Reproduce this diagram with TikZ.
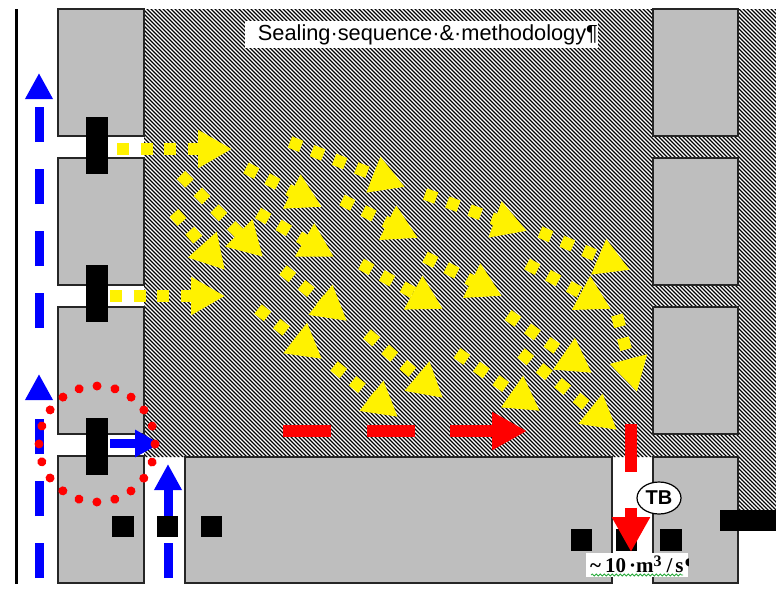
\documentclass[tikz,border=0pt]{standalone}
\usepackage{fontspec}
\setmainfont{Liberation Sans}
\newfontfamily\flowfont{Liberation Serif}
\usepackage{tikz}
\usetikzlibrary{arrows.meta,decorations.pathmorphing,patterns.meta,shapes.geometric}
\definecolor{RoomGray}{RGB}{190,190,190}
\definecolor{WaveGreen}{RGB}{40,170,60}
\tikzset{
  hatchzone/.style={pattern={Lines[angle=-45,distance=2.8284pt,line width=1.2pt]},pattern color=black},
  room/.style={draw=black!85,fill=RoomGray,line width=2pt},
  block/.style={fill=black},
  wall/.style={draw=black,line width=3pt},
  flowarrow/.style={draw=yellow,line width=12pt,dash pattern=on 12pt off 11.7pt,
    -{Triangle[length=34pt,width=36pt]}},
  bluearrow/.style={draw=blue,line width=9pt,dash pattern=on 35pt off 27pt,
    -{Triangle[length=26pt,width=26pt]}},
  bluesolid/.style={draw=blue,line width=9pt,-{Triangle[length=25pt,width=26pt]}},
  redarrow/.style={draw=red,line width=12pt,dash pattern=on 48pt off 35.5pt,
    -{Triangle[length=35pt,width=36pt]}},
  sealring/.style={draw=red,line width=9pt,line cap=round,dash pattern=on 0.01pt off 18.2pt},
  titlebox/.style={fill=white,inner sep=0pt,text width=353pt,minimum height=27pt,align=right,
    font=\fontsize{21.8pt}{23pt}\selectfont},
  tbbubble/.style={ellipse,draw=black,fill=white,line width=1.2pt,inner sep=0pt,
    minimum width=44pt,minimum height=32pt,font=\fontsize{20pt}{21pt}\selectfont\bfseries},
  wave/.style={draw=WaveGreen,line width=0.8pt,decorate,
    decoration={snake,amplitude=1pt,segment length=4pt}},
}
\begin{document}
\begin{tikzpicture}[x=1pt,y=-1pt]
\useasboundingbox (0,0) rectangle (776,590);
\fill[hatchzone] (144,9)--(776,9)--(776,510)--(738,510)--(738,457)--(144,457)--cycle;
\draw[wall] (16,9)--(16,584);
\draw[room] (58,9) rectangle (144,136);
\draw[room] (58,158) rectangle (144,285);
\draw[room] (58,307) rectangle (144,434);
\draw[room] (58,456) rectangle (144,583);
\draw[room] (653,9) rectangle (738,136);
\draw[room] (653,158) rectangle (738,285);
\draw[room] (653,307) rectangle (738,434);
\draw[room] (653,457) rectangle (738,583);
\draw[room] (185,457) rectangle (612,583);
\coordinate (b1a) at (39,328);
\coordinate (b1b) at (39,73);
\coordinate (b2a) at (39,578);
\coordinate (b2b) at (39,374);
\coordinate (b3a) at (168,578);
\coordinate (b3b) at (168,464);
\coordinate (b4a) at (110,443.5);
\coordinate (b4b) at (160,443.5);
\draw[bluearrow] (b1a)--(b1b);
\draw[bluearrow] (b2a)--(b2b);
\draw[bluearrow] (b3a)--(b3b);
\draw[bluesolid] (b4a)--(b4b);
\fill[block] (86,117) rectangle (108,174);
\fill[block] (86,265) rectangle (108,322);
\fill[block] (86,418) rectangle (108,475);
\fill[block] (112,516) rectangle (134,537);
\fill[block] (157,516) rectangle (178,537);
\fill[block] (201,516) rectangle (222,537);
\fill[block] (571,529) rectangle (592,551);
\fill[block] (616,529) rectangle (637,551);
\fill[block] (660,529) rectangle (682,551);
\fill[block] (720,510) rectangle (776,531);
\coordinate (y1a) at (117,149);
\coordinate (y1b) at (232,149);
\coordinate (y2a) at (110,296);
\coordinate (y2b) at (225,296);
\coordinate (y3a) at (290,142);
\coordinate (y3b) at (405,187);
\coordinate (y4a) at (425,194);
\coordinate (y4b) at (527,231);
\coordinate (y5a) at (540,232);
\coordinate (y5b) at (630,270);
\coordinate (y6a) at (617,315);
\coordinate (y6b) at (637,392);
\coordinate (y7a) at (246,168);
\coordinate (y7b) at (322,207);
\coordinate (y8a) at (342,200);
\coordinate (y8b) at (418,238);
\coordinate (y9a) at (425,257);
\coordinate (y9b) at (502,296);
\coordinate (y10a) at (527,264);
\coordinate (y10b) at (611,309);
\coordinate (y11a) at (181,175);
\coordinate (y11b) at (263,257);
\coordinate (y12a) at (174,213);
\coordinate (y12b) at (225,270);
\coordinate (y13a) at (258,213);
\coordinate (y13b) at (334,257);
\coordinate (y14a) at (283,270);
\coordinate (y14b) at (347,321);
\coordinate (y15a) at (258,309);
\coordinate (y15b) at (322,359);
\coordinate (y16a) at (361,264);
\coordinate (y16b) at (443,309);
\coordinate (y17a) at (367,334);
\coordinate (y17b) at (443,398);
\coordinate (y18a) at (334,366);
\coordinate (y18b) at (398,417);
\coordinate (y19a) at (457,353);
\coordinate (y19b) at (540,411);
\coordinate (y20a) at (508,315);
\coordinate (y20b) at (592,373);
\coordinate (y21a) at (521,353);
\coordinate (y21b) at (617,430);
\draw[flowarrow] (y1a)--(y1b);
\draw[flowarrow] (y2a)--(y2b);
\draw[flowarrow] (y3a)--(y3b);
\draw[flowarrow] (y4a)--(y4b);
\draw[flowarrow] (y5a)--(y5b);
\draw[flowarrow] (y6a)--(y6b);
\draw[flowarrow] (y7a)--(y7b);
\draw[flowarrow] (y8a)--(y8b);
\draw[flowarrow] (y9a)--(y9b);
\draw[flowarrow] (y10a)--(y10b);
\draw[flowarrow] (y11a)--(y11b);
\draw[flowarrow] (y12a)--(y12b);
\draw[flowarrow] (y13a)--(y13b);
\draw[flowarrow] (y14a)--(y14b);
\draw[flowarrow] (y15a)--(y15b);
\draw[flowarrow] (y16a)--(y16b);
\draw[flowarrow] (y17a)--(y17b);
\draw[flowarrow] (y18a)--(y18b);
\draw[flowarrow] (y19a)--(y19b);
\draw[flowarrow] (y20a)--(y20b);
\draw[flowarrow] (y21a)--(y21b);
\coordinate (r1a) at (283,431);
\coordinate (r1b) at (527,431);
\coordinate (r2a) at (631,424);
\coordinate (r2b) at (631,552);
\draw[redarrow] (r1a)--(r1b);
\draw[redarrow] (r2a)--(r2b);
\draw[sealring] (97,444) circle (58pt);
\node[titlebox] (title) at (421.5,34.5) {Sealing·sequence·\&·methodology¶};
\node[tbbubble] (tb) at (659,498) {TB};
\fill[white] (586,553) rectangle (688,577);
\begin{scope}
\clip (586,553) rectangle (688,577);
\node[anchor=base west,inner sep=0pt,font=\flowfont\bfseries\fontsize{21pt}{22pt}\selectfont] (rate) at (590,572) {\textasciitilde\kern4pt 10\kern3pt·m\raisebox{6pt}{\fontsize{16pt}{16pt}\selectfont 3}\kern5pt/\kern3pt s\kern1pt¶};
\end{scope}
\coordinate (w1) at (591,575);
\coordinate (w2) at (683,575);
\draw[wave] (w1)--(w2);
\end{tikzpicture}
\end{document}
